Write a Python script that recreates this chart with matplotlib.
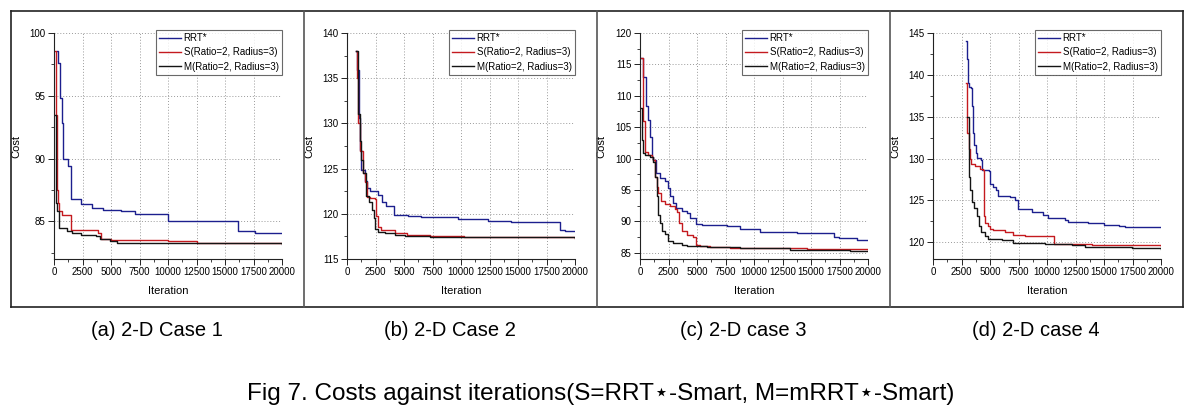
import matplotlib
matplotlib.use("Agg")
import matplotlib.pyplot as plt
from matplotlib.lines import Line2D
from matplotlib.ticker import MultipleLocator

plt.rcParams['font.family'] = ['Liberation Sans Narrow', 'Liberation Sans', 'DejaVu Sans']

# ---------------- data ----------------
series_labels = ["RRT*", "S(Ratio=2, Radius=3)", "M(Ratio=2, Radius=3)"]
panel_captions = ["(a) 2-D Case 1", "(b) 2-D Case 2", "(c) 2-D case 3", "(d) 2-D case 4"]
fig_title = "Fig 7. Costs against iterations(S=RRT⋆-Smart, M=mRRT⋆-Smart)"
x_ticks = [0, 2500, 5000, 7500, 10000, 12500, 15000, 17500, 20000]

# Case 1
a_rrt_x = [230, 380, 520, 670, 760, 1250, 1450, 2400, 3300, 4300, 5900, 7100, 10000, 16150, 17600, 20000]
a_rrt_y = [98.6, 97.6, 94.8, 92.8, 90.0, 89.4, 86.8, 86.4, 86.1, 85.9, 85.8, 85.6, 85.0, 84.2, 84.1, 84.1]
a_s_x = [100, 150, 250, 350, 450, 700, 1450, 3900, 4100, 5000, 10000, 12500, 20000]
a_s_y = [98.6, 93.5, 87.5, 86.5, 85.8, 85.5, 84.3, 84.1, 83.6, 83.5, 83.4, 83.3, 83.3]
a_m_x = [100, 150, 200, 290, 470, 1100, 1550, 2400, 3700, 4000, 4900, 5500, 20000]
a_m_y = [93.5, 88.0, 86.5, 85.8, 84.5, 84.2, 84.1, 83.9, 83.8, 83.6, 83.4, 83.3, 83.2]

# Case 2
b_rrt_x = [820, 910, 1025, 1110, 1260, 1550, 1790, 1990, 2720, 3070, 3450, 4100, 5360, 6530, 9750, 12400, 14400, 18700, 19100, 20000]
b_rrt_y = [138.0, 135.9, 130.6, 127.1, 124.9, 123.6, 122.9, 122.5, 122.1, 121.3, 120.9, 119.9, 119.8, 119.6, 119.45, 119.2, 119.1, 118.2, 118.1, 118.1]
b_s_x = [820, 900, 970, 1110, 1400, 1610, 1790, 1990, 2430, 2580, 2720, 3000, 4200, 5270, 7320, 10250, 20000]
b_s_y = [138.0, 135.0, 130.0, 127.0, 124.5, 123.5, 121.9, 121.7, 121.6, 119.8, 118.5, 118.2, 117.9, 117.6, 117.5, 117.4, 117.3]
b_m_x = [820, 970, 1110, 1260, 1400, 1700, 1900, 2200, 2370, 2490, 2720, 3300, 4200, 5070, 7320, 20000]
b_m_y = [138.0, 131.0, 128.0, 126.0, 124.5, 122.0, 121.3, 120.4, 119.5, 118.3, 118.0, 117.9, 117.7, 117.5, 117.4, 117.3]

# Case 3
c_rrt_x = [90, 230, 530, 730, 880, 1025, 1170, 1400, 1760, 2200, 2490, 2640, 2930, 3160, 3660, 4100, 4390, 4920, 5420, 7610, 8780, 10540, 13760, 16100, 16980, 17420, 19030, 20000]
c_rrt_y = [116.0, 113.0, 108.3, 106.1, 103.5, 100.3, 99.8, 97.7, 96.9, 96.4, 95.3, 94.0, 92.9, 92.1, 91.6, 91.3, 90.55, 89.65, 89.4, 89.2, 88.7, 88.3, 88.2, 88.1, 87.5, 87.3, 87.1, 87.0]
c_s_x = [90, 230, 440, 730, 1025, 1170, 1320, 1460, 1610, 1820, 2200, 2640, 3080, 3280, 3460, 3660, 4100, 4690, 4920, 5270, 6150, 7910, 10250, 14640, 20000]
c_s_y = [116.0, 106.0, 101.0, 100.5, 100.2, 99.8, 97.0, 95.5, 94.5, 93.3, 92.8, 92.5, 92.0, 91.5, 89.8, 88.5, 87.9, 87.5, 86.3, 86.1, 85.9, 85.8, 85.7, 85.6, 85.5]
c_m_x = [60, 150, 290, 440, 880, 1170, 1320, 1460, 1610, 1760, 1900, 2200, 2490, 2930, 3660, 4100, 5860, 8780, 13180, 18450, 20000]
c_m_y = [108.0, 103.0, 100.9, 100.5, 100.2, 99.5, 97.0, 94.0, 91.0, 89.7, 88.5, 88.0, 86.8, 86.5, 86.3, 86.0, 85.9, 85.7, 85.5, 85.3, 85.2]

# Case 4
d_rrt_x = [2930, 3020, 3080, 3140, 3310, 3430, 3520, 3610, 3810, 3900, 4250, 4340, 4930, 4990, 5280, 5570, 5660, 6750, 7190, 7480, 8650, 9680, 10120, 11590, 11880, 13640, 14960, 16280, 16870, 20000]
d_rrt_y = [144.1, 141.9, 139.0, 138.5, 138.4, 136.3, 133.0, 131.6, 130.7, 130.1, 129.8, 128.6, 128.5, 127.0, 126.6, 126.2, 125.55, 125.4, 125.1, 124.0, 123.6, 123.3, 122.9, 122.7, 122.4, 122.3, 122.1, 121.95, 121.8, 121.8]
d_s_x = [2930, 3020, 3140, 3250, 3370, 3660, 4110, 4400, 4460, 4550, 4840, 4990, 5280, 6300, 7040, 8060, 10560, 10650, 13930, 20000]
d_s_y = [139.0, 133.0, 131.2, 130.0, 129.4, 129.1, 128.8, 128.6, 123.1, 122.3, 121.9, 121.6, 121.45, 121.2, 120.9, 120.8, 120.7, 119.8, 119.7, 119.56]
d_m_x = [3020, 3140, 3230, 3430, 3610, 3900, 4050, 4250, 4550, 4840, 6010, 7040, 9830, 12170, 13350, 14810, 17450, 20000]
d_m_y = [135.0, 127.8, 126.2, 124.8, 124.05, 123.1, 121.9, 121.2, 120.7, 120.4, 120.3, 119.9, 119.8, 119.7, 119.45, 119.4, 119.3, 119.2]

panels = [
    (a_rrt_x, a_rrt_y, a_s_x, a_s_y, a_m_x, a_m_y, (82.0, 100.0), [85, 90, 95, 100]),
    (b_rrt_x, b_rrt_y, b_s_x, b_s_y, b_m_x, b_m_y, (115.0, 140.0), [115, 120, 125, 130, 135, 140]),
    (c_rrt_x, c_rrt_y, c_s_x, c_s_y, c_m_x, c_m_y, (84.0, 120.0), [85, 90, 95, 100, 105, 110, 115, 120]),
    (d_rrt_x, d_rrt_y, d_s_x, d_s_y, d_m_x, d_m_y, (118.0, 145.0), [120, 125, 130, 135, 140, 145]),
]

# ---------------- layout ----------------
W, H = 1203, 412
fig = plt.figure(figsize=(W / 100, H / 100), dpi=100)

def fpos(l, r, t, b):
    return [l / W, 1 - b / H, (r - l) / W, (b - t) / H]

ax_lefts = [54, 347, 640, 933]
ylabel_x = [21, 314, 606, 900]
colors = ["#1c1f8e", "#c41a1f", "#141414"]
AXW = 228

for i, (rx, ry, sx, sy, mx, my, ylim, yt) in enumerate(panels):
    l = ax_lefts[i]
    ax = fig.add_axes(fpos(l, l + AXW, 33, 259))
    ax.plot(rx, ry, drawstyle='steps-post', color=colors[0], lw=1.0, label=series_labels[0])
    ax.plot(sx, sy, drawstyle='steps-post', color=colors[1], lw=1.0, label=series_labels[1])
    ax.plot(mx, my, drawstyle='steps-post', color=colors[2], lw=1.0, label=series_labels[2])
    ax.set_xlim(0, 20000)
    ax.set_ylim(*ylim)
    ax.set_xticks(x_ticks)
    ax.set_xticklabels([str(v) for v in x_ticks])
    ax.set_yticks(yt)
    ax.set_yticklabels([str(v) for v in yt])
    ax.xaxis.set_minor_locator(MultipleLocator(1250))
    ax.yaxis.set_minor_locator(MultipleLocator(2.5))
    for s in ['top', 'right']:
        ax.spines[s].set_visible(False)
    for s in ['left', 'bottom']:
        ax.spines[s].set_linewidth(0.8)
        ax.spines[s].set_color('#222222')
    ax.tick_params(axis='both', which='major', direction='out', length=4, width=0.7,
                   labelsize=7, pad=2, color='#222222')
    ax.tick_params(axis='both', which='minor', direction='out', length=2, width=0.6, color='#222222')
    ax.grid(True, which='major', linestyle=(0, (1, 2)), color='#9a9a9a', lw=0.7)
    ax.set_axisbelow(True)
    ax.set_xlabel("Iteration", fontsize=8, labelpad=6)
    ax.set_ylabel("Cost", fontsize=8)
    ax.yaxis.set_label_coords((ylabel_x[i] - l) / AXW, 0.5)
    leg = ax.legend(loc='upper right', bbox_to_anchor=(1.0, 1.015), borderaxespad=0,
                    fontsize=7, frameon=True, fancybox=False, handlelength=2.2,
                    handletextpad=0.3, labelspacing=0.45, borderpad=0.35)
    leg.get_frame().set_edgecolor('#444444')
    leg.get_frame().set_linewidth(0.8)
    # caption
    cx = [157, 450, 743, 1036][i]
    fig.text(cx / W, 1 - 331 / H, panel_captions[i], ha='center', va='center', fontsize=14.5,
             family=['Liberation Sans', 'DejaVu Sans'])

# outer table box
box_l, box_r, box_t, box_b = 11, 1183, 11, 307
def fline(x0, y0, x1, y1, c='#222222', lw=1.2):
    fig.add_artist(Line2D([x0 / W, x1 / W], [1 - y0 / H, 1 - y1 / H], color=c, lw=lw,
                          transform=fig.transFigure))
fline(box_l, box_t, box_r, box_t)
fline(box_l, box_b, box_r, box_b)
fline(box_l, box_t, box_l, box_b)
fline(box_r, box_t, box_r, box_b)
for xd in [304, 597, 890]:
    fline(xd, box_t, xd, box_b, c='#555555')

fig.text(601 / W, 1 - 394 / H, fig_title, ha='center', va='center', fontsize=17.5,
         family=['Liberation Sans', 'DejaVu Sans'])

fig.savefig("out.png", dpi=100)
